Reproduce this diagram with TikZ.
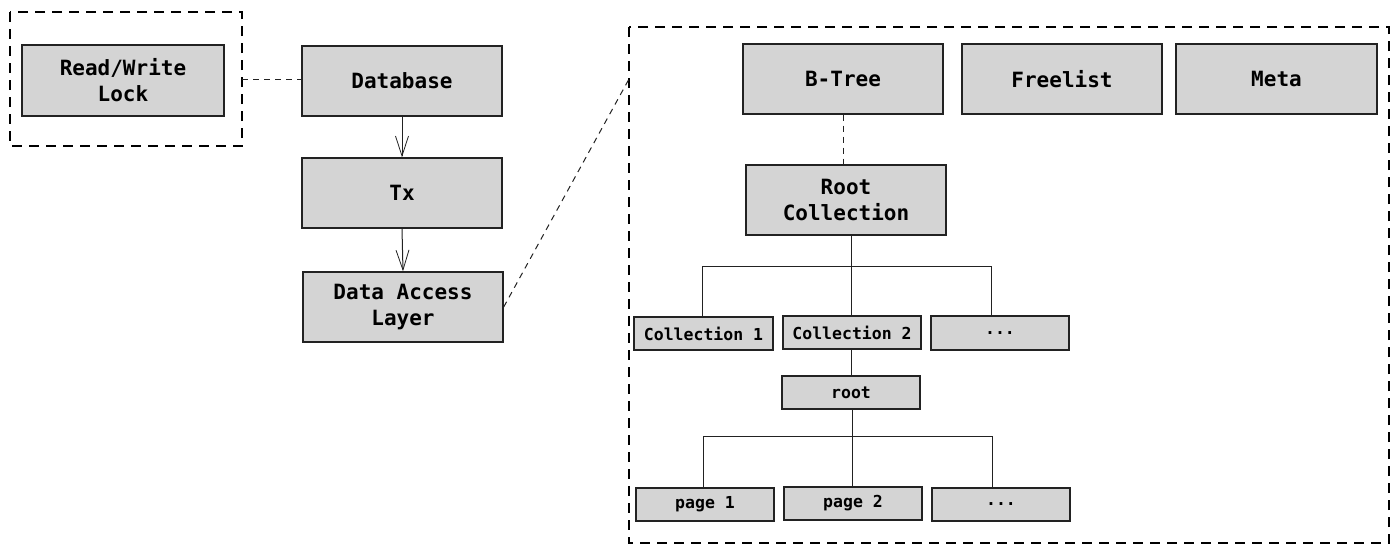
\documentclass[tikz,border=0pt]{standalone}
\usepackage{fontspec}
\setmonofont{DejaVu Sans Mono}
\usetikzlibrary{arrows.meta}
\definecolor{boxfill}{HTML}{D4D4D4}
\definecolor{edge}{HTML}{222222}
\tikzset{
  bigbox/.style={draw=edge, line width=1.4pt, fill=boxfill, inner sep=0pt, align=center,
    font=\fontsize{21}{26}\selectfont\ttfamily\bfseries},
  smallbox/.style={draw=edge, line width=1.4pt, fill=boxfill, inner sep=0pt, align=center,
    font=\fontsize{16.5}{20}\selectfont\ttfamily\bfseries},
  group/.style={draw=black, line width=2.6pt, dash pattern=on 10pt off 7pt},
  thindash/.style={draw=edge, line width=1pt, dash pattern=on 6pt off 5pt},
  flow/.style={draw=edge, line width=1pt, -{Straight Barb[length=20pt,width=13pt,line width=0.8pt]}},
  tree/.style={draw=edge, line width=1pt}
}
\begin{document}
\begin{tikzpicture}[x=1pt,y=-1pt]
\useasboundingbox (0,0) rectangle (1400,554);
% group boxes
\draw[group] (10,12) rectangle (242,146);
\draw[group] (629,27) rectangle (1389,543);
% left column
\node[bigbox, minimum width=202pt, minimum height=71pt] (rw) at (123,80.5) {Read/Write\\Lock};
\node[bigbox, minimum width=200pt, minimum height=70pt] (db) at (402,81) {Database};
\node[bigbox, minimum width=200pt, minimum height=70pt] (tx) at (402,193) {Tx};
\node[bigbox, minimum width=200pt, minimum height=70pt] (dal) at (403,307) {Data Access\\Layer};
\coordinate (lockedge) at (242,79);
\coordinate (bigcorner) at (629,79);
\draw[thindash] (lockedge) -- (db.west |- lockedge);
\draw[flow] (db.south) -- (tx.north);
\draw[flow] (tx.south) -- (dal.north);
\draw[thindash] (dal.east) -- (bigcorner);
% top row
\node[bigbox, minimum width=200pt, minimum height=70pt] (bt) at (843,79) {B-Tree};
\node[bigbox, minimum width=200pt, minimum height=70pt] (fl) at (1062,79) {Freelist};
\node[bigbox, minimum width=201pt, minimum height=70pt] (meta) at (1276.5,79) {Meta};
% root collection
\node[bigbox, minimum width=200pt, minimum height=70pt] (rc) at (846,200) {Root\\Collection};
\draw[thindash] (bt.south) -- (bt.south |- rc.north);
% collections
\node[smallbox, minimum width=139pt, minimum height=33pt] (c1) at (703.5,333.5) {Collection 1};
\node[smallbox, minimum width=138pt, minimum height=33pt] (c2) at (852,332.5) {Collection 2};
\node[smallbox, minimum width=138pt, minimum height=34pt] (c3) at (1000,333) {...};
\coordinate (bar1) at (851,266);
\coordinate (bar1l) at (702,266);
\coordinate (bar1r) at (991,266);
\draw[tree] (rc.south -| bar1) -- (c2.north -| bar1);
\draw[tree] (bar1l) -- (bar1r);
\draw[tree] (bar1l) -- (c1.north -| bar1l);
\draw[tree] (bar1r) -- (c3.north -| bar1r);
% root
\node[smallbox, minimum width=138pt, minimum height=33pt] (root) at (851,392.5) {root};
\draw[tree] (c2.south -| root) -- (root.north);
% pages
\node[smallbox, minimum width=138pt, minimum height=33pt] (p1) at (705,504.5) {page 1};
\node[smallbox, minimum width=138pt, minimum height=33pt] (p2) at (853,503.5) {page 2};
\node[smallbox, minimum width=138pt, minimum height=33pt] (p3) at (1001,504.5) {...};
\coordinate (bar2) at (852,436);
\coordinate (bar2l) at (703,436);
\coordinate (bar2r) at (992,436);
\draw[tree] (root.south -| bar2) -- (p2.north -| bar2);
\draw[tree] (bar2l) -- (bar2r);
\draw[tree] (bar2l) -- (p1.north -| bar2l);
\draw[tree] (bar2r) -- (p3.north -| bar2r);
\end{tikzpicture}
\end{document}
